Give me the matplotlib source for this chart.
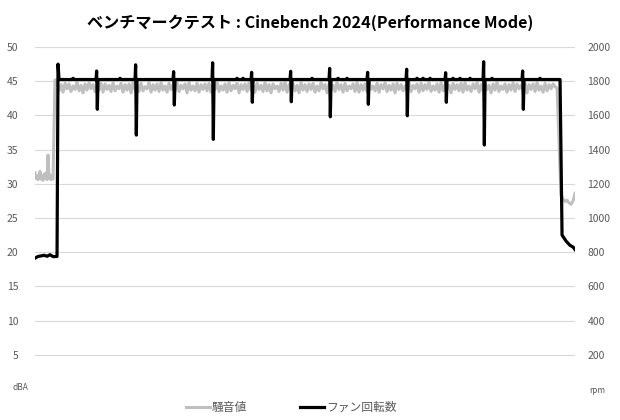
import numpy as np
import matplotlib.pyplot as plt

plt.rcParams['font.family'] = ['Noto Sans CJK JP', 'DejaVu Sans']

# noise (dBA), three segments: idle, load, after load
noise_idle = [31.6, 30.8, 31.2, 30.6, 31.0, 31.8, 30.7, 31.1, 30.5, 31.4,
              30.9, 31.6, 30.6, 34.2, 30.8, 31.3, 30.6, 31.0, 30.7, 38.0, 45.2]
noise_load = [
    44.8, 43.6, 44.5, 43.4, 44.7, 43.9, 44.6, 43.5, 44.3, 43.8, 44.9, 43.6, 44.4, 43.3, 44.6, 43.7, 44.8, 43.9, 44.5, 43.5, 44.2, 43.7, 44.7, 43.4, 44.6,
    43.8, 44.4, 43.5, 44.8, 43.6, 44.3, 43.9, 44.7, 43.4, 44.5, 43.7, 44.6, 43.3, 44.9, 43.8, 44.4, 43.5, 44.7, 43.6, 44.2, 43.9, 44.8, 43.4, 44.5, 43.7,
    44.6, 43.5, 44.8, 43.7, 44.3, 43.4, 44.7, 43.8, 44.5, 43.6, 44.9, 43.5, 44.4, 43.9, 44.6, 43.3, 44.8, 43.7, 44.3, 43.6, 44.7, 43.4, 44.5, 43.8, 44.6,
    43.6, 44.7, 43.4, 44.5, 43.8, 44.9, 43.5, 44.3, 43.7, 44.6, 43.4, 44.8, 43.6, 44.4, 43.9, 44.7, 43.3, 44.5, 43.8, 44.6, 43.5, 44.8, 43.7, 44.3, 43.4,
    44.7, 43.8, 44.4, 43.5, 44.8, 43.6, 44.5, 43.3, 44.6, 43.9, 44.3, 43.5, 44.7, 43.7, 44.9, 43.4, 44.5, 43.8, 44.6, 43.6, 44.4, 43.3, 44.8, 43.7, 44.5,
    43.5, 44.6, 43.8, 44.7, 43.4, 44.3, 43.6, 44.8, 43.9, 44.5, 43.3, 44.6, 43.7, 44.4, 43.5, 44.9, 43.8, 44.5, 43.4, 44.7, 43.6, 44.3, 43.9, 44.6, 43.5,
    44.8, 43.4, 44.5, 43.7, 44.6, 43.5, 44.9, 43.8, 44.3, 43.6, 44.7, 43.4, 44.5, 43.9, 44.8, 43.5, 44.4, 43.7, 44.6, 43.3, 44.7, 43.8, 44.5, 43.6, 44.3,
    43.7, 44.8, 43.5, 44.4, 43.9, 44.6, 43.4, 44.7, 43.6, 44.5, 43.8, 44.9, 43.5, 44.3, 43.7, 44.6, 43.4, 44.8, 43.6, 44.5, 43.9, 44.4, 43.3, 44.7, 43.8,
    44.5, 43.6, 44.7, 43.4, 44.8, 43.7, 44.3, 43.5, 44.6, 43.9, 44.8, 43.4, 44.5, 43.6, 44.7, 43.8, 44.4, 43.3, 44.6, 43.7, 44.9, 43.5, 44.3, 43.8, 44.6,
    43.4, 44.5, 43.7, 44.8, 43.5, 44.6, 43.9, 44.4, 43.6, 44.7, 43.3, 44.5, 43.8, 44.6, 43.5, 44.8, 43.7, 44.3, 43.4, 44.7, 43.6, 44.5, 43.9, 44.6, 44.2,
    44.0]
noise_end = [28.3, 27.8, 27.4, 27.6, 27.2, 27.0, 27.5, 28.6]

# fan speed (rpm)
fan_idle_t = [0, 3, 6, 9, 12, 15, 18, 22]
fan_idle = [765, 775, 778, 782, 776, 785, 774, 775]
fan_flat = 1810
spike_t = [62, 101, 139, 178, 217, 256, 295, 333, 372, 411, 449, 488]
spike_top = [1860, 1896, 1856, 1908, 1852, 1858, 1875, 1852, 1870, 1850, 1914, 1860]
spike_low = [1636, 1485, 1661, 1460, 1677, 1680, 1592, 1665, 1598, 1677, 1427, 1636]
bump_t = [38, 85, 202, 208, 277, 303, 312, 382, 388, 395, 418, 425, 435, 457, 505]
bump_rpm = 1817
fan_end_t = [525, 527, 531, 535, 538, 540]
fan_end = [1810, 900, 865, 840, 830, 815]

# build time axes
t_noise = np.concatenate([np.arange(len(noise_idle)),
                          np.linspace(22, 522, len(noise_load)),
                          np.linspace(526, 540, len(noise_end))])
db = np.array(noise_idle + noise_load + noise_end)

pts = list(zip(fan_idle_t, fan_idle)) + [(23, 1900), (24, fan_flat)]
for t, hi, lo in zip(spike_t, spike_top, spike_low):
    pts += [(t - 1, fan_flat), (t - 0.4, hi), (t + 0.3, lo), (t + 1, fan_flat)]
for t in bump_t:
    pts += [(t - 1, fan_flat), (t, bump_rpm), (t + 1, fan_flat)]
pts += list(zip(fan_end_t, fan_end))
pts.sort()
ft = [p[0] for p in pts]
fr = [p[1] for p in pts]

fig = plt.figure(figsize=(6.2, 4.2), dpi=100)
ax = fig.add_axes([0.0565, 0.074, 0.871, 0.814])
ax2 = ax.twinx()

grey = '#595959'
l1, = ax.plot(t_noise, db, color='#bfbfbf', lw=2.2, solid_joinstyle='round', label='騒音値')
l2, = ax2.plot(ft, fr, color='black', lw=2.3, solid_joinstyle='round', label='ファン回転数')

ax.set_ylim(0, 50)
ax2.set_ylim(0, 2000)
ax.set_xlim(0, 540)
ax.set_yticks(range(5, 51, 5))
ax2.set_yticks(range(200, 2001, 200))
ax.yaxis.grid(True, color='#d9d9d9', lw=0.8)
ax.set_axisbelow(True)
ax.set_xticks([])
for a in (ax, ax2):
    for s in a.spines.values():
        s.set_visible(False)
    a.tick_params(length=0, labelsize=7.5, colors=grey)
ax.tick_params(axis='y', pad=12)
ax2.tick_params(axis='y', pad=9)

fig.text(0.5, 0.945, 'ベンチマークテスト : Cinebench 2024(Performance Mode)',
         ha='center', va='center', fontsize=11.6, fontweight='bold')
fig.text(0.033, 0.078, 'dBA', ha='center', va='center', fontsize=6, color=grey)
fig.text(0.963, 0.07, 'rpm', ha='center', va='center', fontsize=6, color=grey)

fig.legend(handles=[l1, l2], loc='center', bbox_to_anchor=(0.47, 0.03), ncol=2,
           frameon=False, fontsize=8.5, handlelength=2.0, handletextpad=0.2,
           columnspacing=4.5, labelcolor=grey)

fig.savefig('out.png', dpi=100)
